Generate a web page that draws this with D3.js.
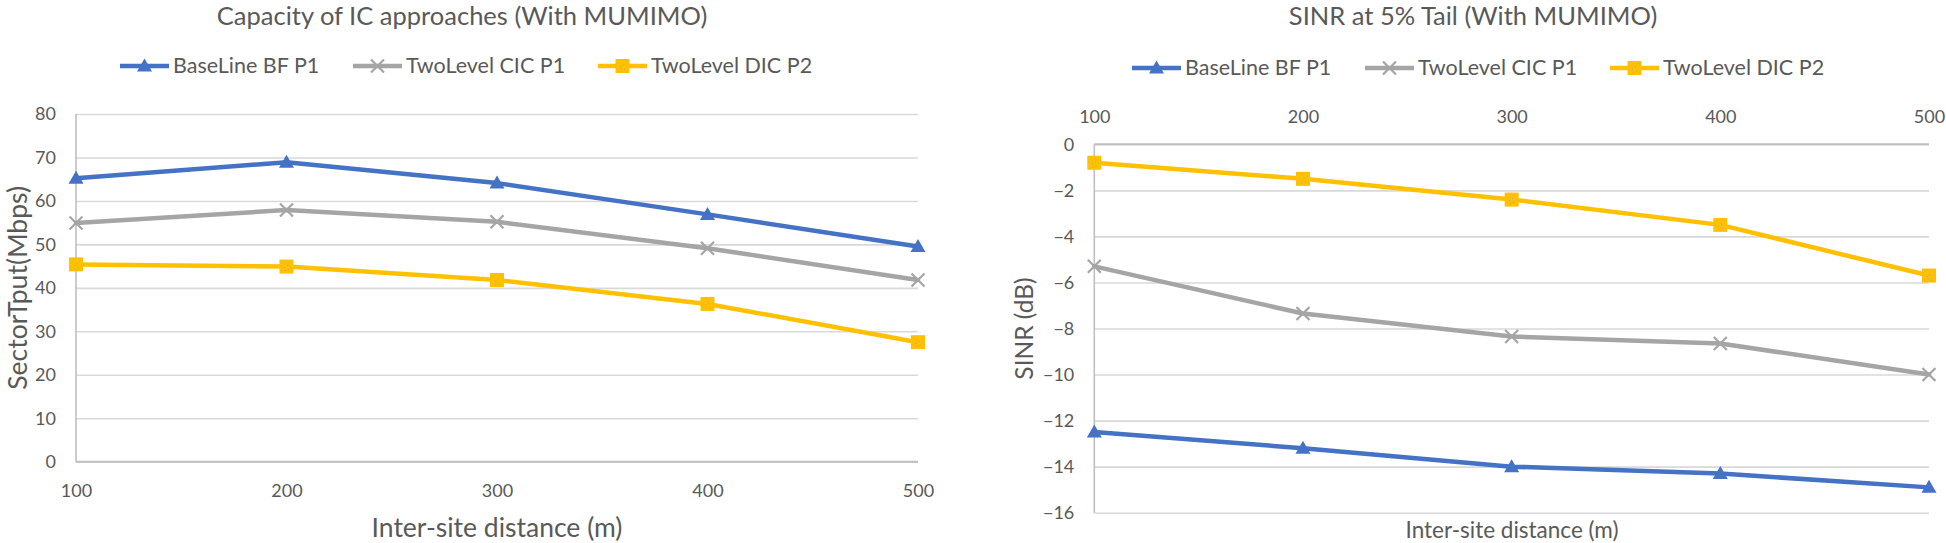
<!DOCTYPE html>
<html>
<head>
<meta charset="utf-8">
<script src="https://cdn.jsdelivr.net/npm/d3@7"></script>
<style>
  html, body { margin: 0; padding: 0; background: #ffffff; }
  svg { display: block; }
  text { font-family: Lato, "Open Sans", sans-serif; fill: #595959; }
</style>
</head>
<body>
<svg id="chart" width="1946" height="543"></svg>
<script>
// ---------- DATA ----------
const distances = ["100", "200", "300", "400", "500"];
const seriesNames = ["BaseLine BF P1", "TwoLevel CIC P1", "TwoLevel DIC P2"];

const capBaseline = [65.2, 68.9, 64.1, 56.9, 49.5];
const capCIC      = [54.9, 57.9, 55.2, 49.1, 41.8];
const capDIC      = [45.4, 44.9, 41.8, 36.3, 27.5];
const capTicks    = [0, 10, 20, 30, 40, 50, 60, 70, 80];

const sinrBaseline = [-12.5, -13.2, -14.0, -14.3, -14.9];
const sinrCIC      = [-5.3, -7.35, -8.35, -8.65, -10.0];
const sinrDIC      = [-0.8, -1.5, -2.4, -3.5, -5.7];
const sinrTicks    = [0, -2, -4, -6, -8, -10, -12, -14, -16];

const capTitle  = "Capacity of IC approaches (With MUMIMO)";
const sinrTitle = "SINR at 5% Tail (With MUMIMO)";
const xTitle    = "Inter-site distance (m)";
const capYTitle = "SectorTput(Mbps)";
const sinrYTitle = "SINR (dB)";

// ---------- STYLE ----------
const colors  = ["#4472C4", "#A5A5A5", "#FFC000"];
const markers = ["triangle", "x", "square"];

const svg = d3.select("#chart");

function drawMarker(g, type, color) {
  if (type === "triangle") {
    const w = 15, h = 13;
    g.append("path")
      .attr("d", `M0,${-h/2 - 1}L${w/2},${h/2 - 1}L${-w/2},${h/2 - 1}Z`)
      .attr("fill", color);
  } else if (type === "square") {
    const s = 14;
    g.append("rect").attr("x", -s/2).attr("y", -s/2).attr("width", s).attr("height", s)
      .attr("fill", color);
    g.append("g").selectAll("circle").data([[-2,1],[1,-1],[2,3],[-1,4]]).join("circle")
      .attr("cx", d => d[0]).attr("cy", d => d[1]).attr("r", 0.5).attr("fill", "#8da0c8");
  } else {
    const r = 6.5;
    g.append("path")
      .attr("d", `M${-r},${-r}L${r},${r}M${-r},${r}L${r},${-r}`)
      .attr("stroke", color).attr("stroke-width", 2.2).attr("fill", "none");
  }
}

function drawChart(cfg) {
  const g = svg.append("g");
  const x = d3.scalePoint().domain(distances).range([cfg.left, cfg.right]).padding(0);
  const y = d3.scaleLinear().domain(cfg.domain).range([cfg.bottom, cfg.top]);
  const w = cfg.right - cfg.left;

  // gridlines
  g.append("g")
    .attr("transform", `translate(${cfg.left},0)`)
    .call(d3.axisLeft(y).tickValues(cfg.ticks).tickSize(-w).tickFormat(""))
    .call(a => a.select(".domain").remove())
    .call(a => a.selectAll("line").attr("stroke", "#D9D9D9").attr("stroke-width", 1.6));

  // vertical value axis line
  g.append("line")
    .attr("x1", cfg.left).attr("x2", cfg.left)
    .attr("y1", y(cfg.domain[1])).attr("y2", y(cfg.domain[0]))
    .attr("stroke", "#BFBFBF").attr("stroke-width", 1.6);

  // y tick labels
  g.append("g")
    .attr("transform", `translate(${cfg.left},0)`)
    .call(d3.axisLeft(y).tickValues(cfg.ticks).tickSize(0).tickPadding(20).tickFormat(d3.format("d")))
    .call(a => a.select(".domain").remove())
    .call(a => a.selectAll("text").style("font-size", "18px").attr("fill", "#595959")
                 .style("font-family", "Lato, sans-serif"));

  // category axis line at zero
  g.append("line")
    .attr("x1", cfg.left).attr("x2", cfg.right)
    .attr("y1", y(0)).attr("y2", y(0))
    .attr("stroke", "#BFBFBF").attr("stroke-width", 2);

  // x tick labels
  const xAxis = cfg.xTop ? d3.axisTop(x) : d3.axisBottom(x);
  g.append("g")
    .attr("transform", `translate(0,${y(0)})`)
    .call(xAxis.tickSize(0).tickPadding(cfg.xPad))
    .call(a => a.select(".domain").remove())
    .call(a => a.selectAll("text").style("font-size", "18px").attr("fill", "#595959")
                 .style("font-family", "Lato, sans-serif"));

  // series
  const line = d3.line().x((d, i) => x(distances[i])).y(d => y(d));
  cfg.series.forEach((vals, si) => {
    g.append("path").datum(vals)
      .attr("d", line).attr("fill", "none")
      .attr("stroke", colors[si]).attr("stroke-width", 4.5)
      .attr("stroke-linejoin", "round").attr("stroke-linecap", "round");
  });
  cfg.series.forEach((vals, si) => {
    vals.forEach((v, i) => {
      const mg = g.append("g").attr("transform", `translate(${x(distances[i])},${y(v)})`);
      drawMarker(mg, markers[si], colors[si]);
    });
  });

  // titles
  g.append("text").attr("x", cfg.titleX).attr("y", 25).attr("text-anchor", "middle")
    .style("font-size", "25.5px").text(cfg.title);
  g.append("text").attr("x", cfg.xTitleX).attr("y", cfg.xTitleY).attr("text-anchor", "middle")
    .style("font-size", cfg.xTitleSize + "px").text(xTitle);
  g.append("text")
    .attr("transform", `translate(${cfg.yTitleX},${(cfg.top + cfg.bottom) / 2}) rotate(-90)`)
    .attr("text-anchor", "middle")
    .style("font-size", cfg.yTitleSize + "px").text(cfg.yTitle);

  // legend
  cfg.legendX.forEach((lx, si) => {
    const lg = g.append("g").attr("transform", `translate(${lx},${cfg.legendY})`);
    lg.append("line").attr("x1", 0).attr("x2", 49).attr("y1", -7).attr("y2", -7)
      .attr("stroke", colors[si]).attr("stroke-width", 4.5);
    const mg = lg.append("g").attr("transform", "translate(24.5,-7)");
    drawMarker(mg, markers[si], colors[si]);
    lg.append("text").attr("x", 53).attr("y", 0)
      .style("font-size", "21.5px").text(seriesNames[si]);
  });
}

drawChart({
  left: 76, right: 918, top: 114, bottom: 461.7,
  domain: [0, 80], ticks: capTicks,
  series: [capBaseline, capCIC, capDIC],
  xTop: false, xPad: 23,
  title: capTitle, titleX: 462,
  xTitleX: 497, xTitleY: 537, xTitleSize: 26.5,
  yTitle: capYTitle, yTitleX: 27, yTitleSize: 26.5,
  legendX: [120, 353, 598], legendY: 73
});

drawChart({
  left: 1094.3, right: 1929, top: 144.3, bottom: 512.7,
  domain: [-16, 0], ticks: sinrTicks,
  series: [sinrBaseline, sinrCIC, sinrDIC],
  xTop: true, xPad: 21,
  title: sinrTitle, titleX: 1473,
  xTitleX: 1512, xTitleY: 538, xTitleSize: 22.5,
  yTitle: sinrYTitle, yTitleX: 1033, yTitleSize: 24.5,
  legendX: [1132, 1365, 1610], legendY: 75
});
</script>
</body>
</html>
